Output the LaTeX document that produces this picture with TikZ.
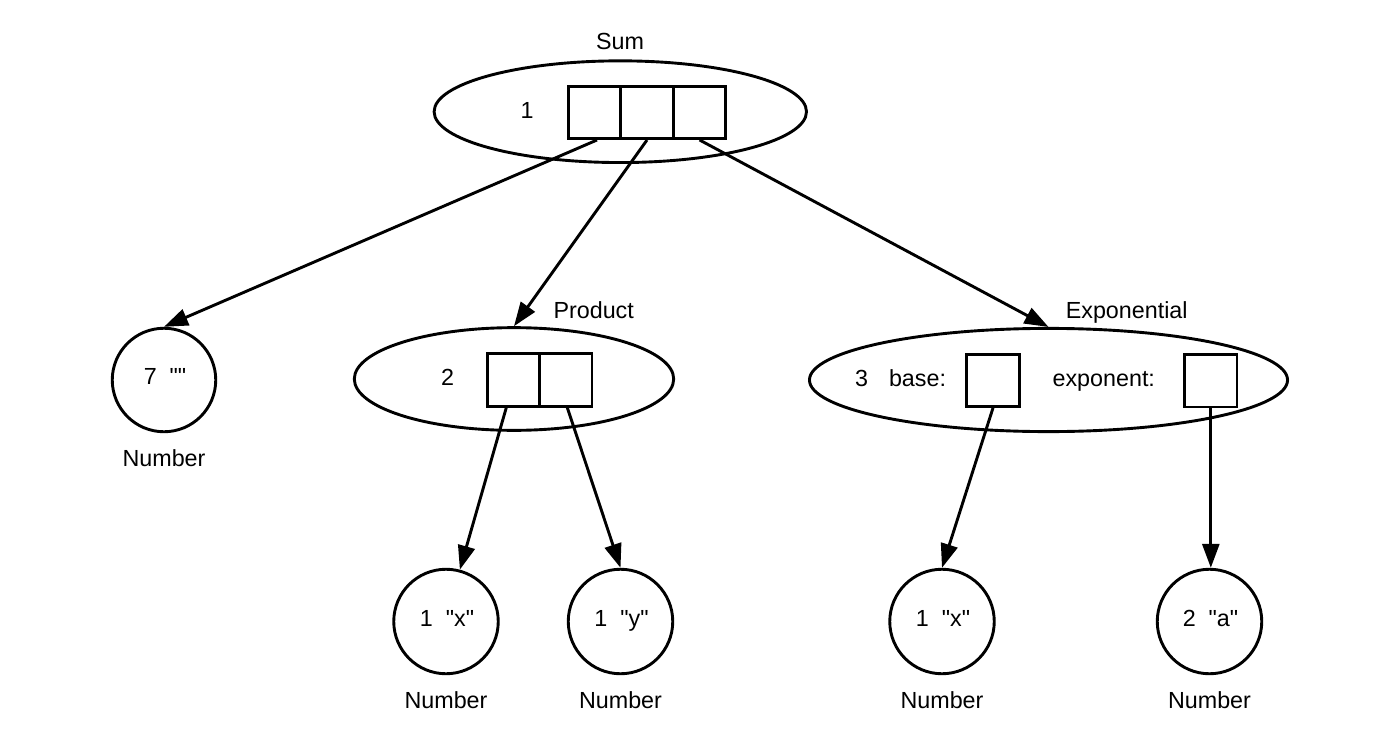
\documentclass[tikz,border=0pt]{standalone}
\usepackage{fontspec}
\newfontfamily\lblfont{Liberation Sans}
\usetikzlibrary{shapes.geometric,arrows.meta}
\begin{document}
\begin{tikzpicture}[x=1pt,y=-1pt,
  line width=2.9pt,
  txt/.style={font=\lblfont\fontsize{23.3}{28}\selectfont, inner sep=0pt, anchor=base},
  oval/.style={draw, ellipse, inner sep=0pt},
  slot/.style={draw, rectangle, minimum size=52.3pt, inner sep=0pt},
  atom/.style={draw, circle, inner sep=0pt, minimum size=104.5pt},
  link/.style={-{Triangle[length=24pt,width=17pt]}, line width=2.9pt}
]
\useasboundingbox (0,0) rectangle (1396,754);

% Sum
\node[oval, minimum width=372.4pt, minimum height=101.7pt] (sum) at (620.3,111.7) {};
\node[slot] (s1) at (594.4,112.4) {};
\node[slot] (s2) at (647,112.4) {};
\node[slot] (s3) at (699.6,112.4) {};
\node[txt] (sumid) at (527,118.3) {1};
\node[txt] (sumlbl) at (620,50) {Sum};

% Number 7
\node[atom, minimum size=103.5pt] (c0) at (164,380) {};
\node[txt] (c0t) at (165,384.3) {7\ \ ""};
\node[txt] (c0l) at (164,466.7) {Number};

% Product
\node[oval, minimum width=319.4pt, minimum height=102.7pt] (prod) at (514,379) {};
\node[slot] (p1) at (513.3,380) {};
\node[slot] (p2) at (565.8,380) {};
\node[txt] (prodid) at (447.5,385.7) {2};
\node[txt] (prodlbl) at (593.7,318.3) {Product};

% Exponential
\node[oval, minimum width=478.1pt, minimum height=103.2pt] (exp) at (1048.5,380) {};
\node[slot] (e1) at (993,380.3) {};
\node[slot] (e2) at (1210.8,380.8) {};
\node[txt] (expid) at (861.7,386) {3};
\node[txt] (expbase) at (917.5,386) {base:};
\node[txt] (expexp) at (1103.8,386) {exponent:};
\node[txt] (explbl) at (1126.7,318.3) {Exponential};

% Bottom numbers
\node[atom] (n1) at (446,621.5) {};
\node[atom] (n2) at (620.5,621.5) {};
\node[atom] (n3) at (942,621.5) {};
\node[atom] (n4) at (1209.5,621.5) {};
\node[txt] (n1t) at (447,626.7) {1\ \ "x"};
\node[txt] (n2t) at (621.5,626.7) {1\ \ "y"};
\node[txt] (n3t) at (943,626.7) {1\ \ "x"};
\node[txt] (n4t) at (1210.5,626.7) {2\ \ "a"};
\node[txt] (n1l) at (446,708.3) {Number};
\node[txt] (n2l) at (620.5,708.3) {Number};
\node[txt] (n3l) at (942,708.3) {Number};
\node[txt] (n4l) at (1209.5,708.3) {Number};

% Connectors
\draw[link] ([xshift=2.6pt]s1.south) -- (c0.north);
\draw[link] (s2.south) -- (prod.north);
\draw[link] (s3.south) -- (exp.north);
\draw[link] ([xshift=-7pt]p1.south) -- (n1.75);
\draw[link] ([xshift=1.5pt]p2.south) -- (n2.north);
\draw[link] (e1.south) -- (n3.north);
\draw[link] (e2.south) -- (e2.south |- n4.north);
\end{tikzpicture}
\end{document}
